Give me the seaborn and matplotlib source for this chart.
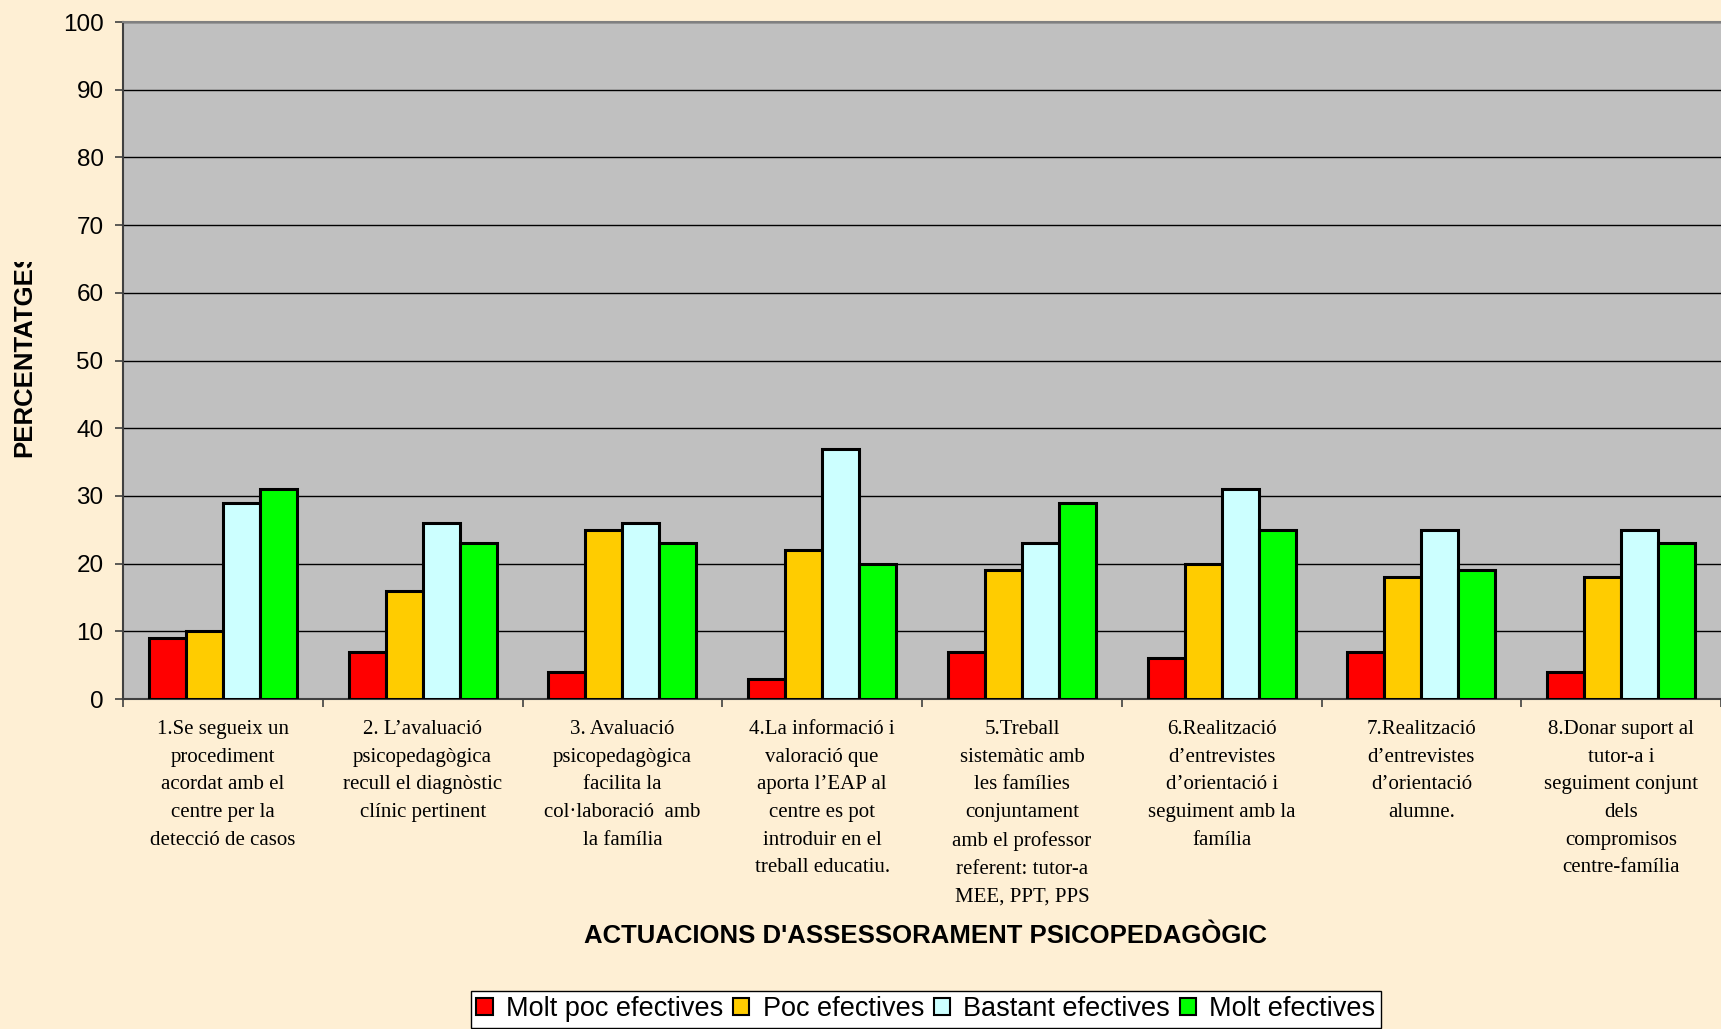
import matplotlib
matplotlib.use("Agg")
import matplotlib.pyplot as plt
from matplotlib.transforms import Bbox, TransformedBbox
from matplotlib.patches import Patch
import seaborn as sns
import pandas as pd

categories = [
    "1.Se segueix un\nprocediment\nacordat amb el\ncentre per la\ndetecció de casos",
    "2. L’avaluació\npsicopedagògica\nrecull el diagnòstic\nclínic pertinent",
    "3. Avaluació\npsicopedagògica\nfacilita la\ncol·laboració  amb\nla família",
    "4.La informació i\nvaloració que\naporta l’EAP al\ncentre es pot\nintroduir en el\ntreball educatiu.",
    "5.Treball\nsistemàtic amb\nles famílies\nconjuntament\namb el professor\nreferent: tutor-a\nMEE, PPT, PPS",
    "6.Realització\nd’entrevistes\nd’orientació i\nseguiment amb la\nfamília",
    "7.Realització\nd’entrevistes\nd’orientació\nalumne.",
    "8.Donar suport al\ntutor-a i\nseguiment conjunt\ndels\ncompromisos\ncentre-família",
]
series = ["Molt poc efectives", "Poc efectives", "Bastant efectives", "Molt efectives"]
molt_poc = [9, 7, 4, 3, 7, 6, 7, 4]
poc = [10, 16, 25, 22, 19, 20, 18, 18]
bastant = [29, 26, 26, 37, 23, 31, 25, 25]
molt = [31, 23, 23, 20, 29, 25, 19, 23]
colors = ["#FF0000", "#FFCC00", "#CCFFFF", "#00FF00"]
yticks = list(range(0, 101, 10))

rows = []
for name, vals in zip(series, [molt_poc, poc, bastant, molt]):
    for i, v in enumerate(vals):
        rows.append({"cat": i, "serie": name, "val": v})
df = pd.DataFrame(rows)

sns.set_theme(style="white")
plt.rcParams["font.family"] = ["Liberation Sans", "DejaVu Sans"]
plt.rcParams["text.color"] = "black"
plt.rcParams["axes.labelcolor"] = "black"
plt.rcParams["xtick.color"] = "black"
plt.rcParams["ytick.color"] = "black"

bg = "#FEEFD4"
fig = plt.figure(figsize=(17.21, 10.29), dpi=100, facecolor=bg)
ax = fig.add_axes([123 / 1721, 330 / 1029, 1 - 123 / 1721, (1029 - 22 - 330) / 1029])
ax.set_facecolor("#C0C0C0")

sns.barplot(data=df, x="cat", y="val", hue="serie", hue_order=series,
            palette=colors, width=0.74, gap=0, edgecolor="black",
            linewidth=2.2, saturation=1, ax=ax, legend=False, zorder=3)

ax.set_ylim(0, 100)
ax.set_xlim(-0.5, 7.5)
ax.set_yticks(yticks)
ax.set_yticklabels([str(t) for t in yticks], fontsize=17.5, color="black")
ax.yaxis.grid(True, color="black", linewidth=1.0, zorder=0)
ax.set_axisbelow(True)
ax.tick_params(axis="y", which="major", direction="out", length=6,
               width=1.2, color="#404040", pad=8, left=True)

ax.set_xticks(range(len(categories)))
ax.set_xticklabels(categories, family=["Liberation Serif", "DejaVu Serif"],
                   fontsize=15, linespacing=1.62, color="black", va="top")
ax.tick_params(axis="x", which="major", length=0, pad=15)
ax.set_xticks([i - 0.5 for i in range(len(categories) + 1)], minor=True)
ax.tick_params(axis="x", which="minor", direction="out", length=6,
               width=1.2, color="#404040", bottom=True)

for side in ["left", "bottom"]:
    ax.spines[side].set_color("#404040")
    ax.spines[side].set_linewidth(1.5)
ax.spines["top"].set_color("#808080")
ax.spines["top"].set_linewidth(1.5)
ax.spines["right"].set_visible(False)

ax.set_xlabel("")
ax.set_ylabel("")
fig.text(0.5377, 1 - 936 / 1029, "ACTUACIONS D'ASSESSORAMENT PSICOPEDAGÒGIC",
         ha="center", va="center", fontsize=18.5, fontweight="bold", color="black")

ylab = fig.text(24 / 1721, 1 - 353 / 1029, "PERCENTATGES", rotation=90,
                ha="center", va="center", fontsize=18.5, fontweight="bold",
                color="black")
ylab.set_clip_box(TransformedBbox(Bbox([[0, 0], [1, 1 - 262 / 1029]]), fig.transFigure))
ylab.set_clip_on(True)

handles = [Patch(facecolor=c, edgecolor="black", linewidth=1.5) for c in colors]
leg = fig.legend(handles, series, loc="upper center", ncol=4,
                 bbox_to_anchor=(926 / 1721, 1 - 991 / 1029),
                 frameon=True, fancybox=False, fontsize=19.5, labelcolor="black",
                 handlelength=0.6, handleheight=0.6, handletextpad=0.5,
                 columnspacing=0.35, borderpad=0.2, borderaxespad=0)
leg.get_frame().set_facecolor("white")
leg.get_frame().set_edgecolor("black")
leg.get_frame().set_linewidth(1.0)
leg.get_frame().set_alpha(1)

fig.savefig("out.png", dpi=100, facecolor=bg)
